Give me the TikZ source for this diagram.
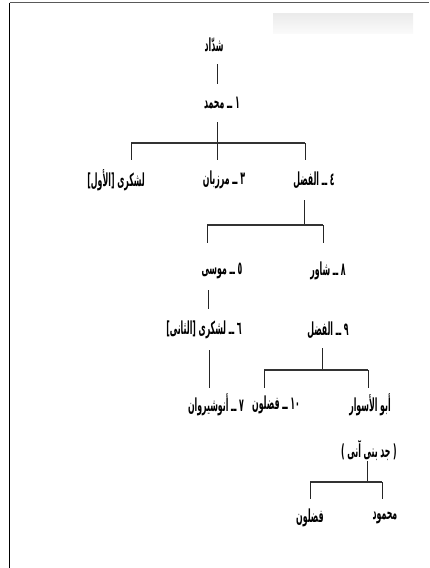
\documentclass[tikz,border=0pt]{standalone}
\usepackage{graphicx}
\usepackage{fontspec}
\newfontfamily\arabicfont[Script=Arabic]{DejaVu Sans}
\TeXXeTstate=1
\newcommand{\artxt}[1]{\scalebox{0.78}[1.8]{\arabicfont\bfseries\beginR #1\endR}}
\newcommand{\arltr}[1]{\scalebox{0.78}[1.8]{\arabicfont\bfseries #1}}
\begin{document}
\begin{tikzpicture}[x=1pt,y=-1pt,
  lbl/.style={font=\fontsize{10}{12}\selectfont, inner sep=0pt, anchor=center},
  conn/.style={line width=0.8pt, black!85},
  bar/.style={line width=1.8pt, black!80},
  frame/.style={line width=1.3pt}]
\useasboundingbox (0,0) rectangle (429,568);
% frame and faint top-right panel
\coordinate (fl) at (9.5,2.5);
\coordinate (fb) at (9.5,568);
\coordinate (fr) at (429,2.5);
\draw[frame, black!65] (fl) -- (fr);
\draw[frame, black] (fl) -- (fb);
\shade[top color=black!8, bottom color=black!2] (273,13) rectangle (413,33);

% nodes
\node[lbl] (shaddad) at (214,45) {\artxt{شدّاد}};
\node[lbl] (m1) at (222,103) {\artxt{١ ــ محمد}};
\node[lbl] (lash1) at (116,180) {\artxt{لشكرى [الأول]}};
\node[lbl] (marz) at (224,180) {\artxt{٣ ــ مرزبان}};
\node[lbl] (fadl4) at (314,180) {\artxt{٤ ــ الفضل}};
\node[lbl] (musa) at (222,271) {\artxt{٥ ــ موسى}};
\node[lbl] (shawar) at (328,271) {\artxt{٨ ــ شاور}};
\node[lbl] (lash2) at (204,330) {\artxt{٦ ــ لشكرى [الثانى]}};
\node[lbl] (fadl9) at (328,330) {\artxt{٩ ــ الفضل}};
\node[lbl] (anush) at (216,405) {\artxt{٧ ــ أنوشيروان}};
\node[lbl] (fadlun10) at (276,405) {\artxt{\beginL ١٠\endL{} ــ فضلون}};
\node[lbl] (aswar) at (370,405) {\artxt{أبو الأسوار}};
\node[lbl] (jadd) at (369,450) {\arltr{) \beginR جد بنى آنى\endR{} (}};
\node[lbl] (mahmud) at (385,518) {\artxt{محمود}};
\node[lbl] (fadlun) at (310,518) {\artxt{فضلون}};

% connector points
\coordinate (a1) at (217,64);  \coordinate (a2) at (217,84);
\coordinate (b0) at (217,122); \coordinate (b1) at (217,143);
\coordinate (bl) at (131,143); \coordinate (br) at (305,143);
\coordinate (bld) at (131,160); \coordinate (bmd) at (217,160); \coordinate (brd) at (305,160);
\coordinate (c0) at (304,200); \coordinate (c1) at (304,225);
\coordinate (cl) at (207,225); \coordinate (cr) at (323,225);
\coordinate (cld) at (207,243); \coordinate (crd) at (323,243);
\coordinate (d0) at (208,290); \coordinate (d1) at (208,309);
\coordinate (e0) at (209,350); \coordinate (e1) at (209,388);
\coordinate (f0) at (322,348); \coordinate (f1) at (322,370);
\coordinate (fl2) at (264,370); \coordinate (fr2) at (368,370);
\coordinate (fld) at (264,388); \coordinate (frd) at (368,388);
\coordinate (g0) at (367,461); \coordinate (g1) at (367,482);
\coordinate (gl) at (310,482); \coordinate (gr) at (382,482);
\coordinate (gld) at (310,499); \coordinate (grd) at (382,499);

% connectors
\draw[conn] (a1) -- (a2);
\draw[conn] (b0) -- (b1);
\draw[bar] (bl) -- (br);
\draw[conn] (bl) -- (bld);
\draw[conn] (b1) -- (bmd);
\draw[conn] (br) -- (brd);
\draw[conn] (c0) -- (c1);
\draw[bar] (cl) -- (cr);
\draw[conn] (cl) -- (cld);
\draw[conn] (cr) -- (crd);
\draw[conn] (d0) -- (d1);
\draw[conn] (e0) -- (e1);
\draw[conn] (f0) -- (f1);
\draw[bar] (fl2) -- (fr2);
\draw[conn] (fl2) -- (fld);
\draw[conn] (fr2) -- (frd);
\draw[conn] (g0) -- (g1);
\draw[bar] (gl) -- (gr);
\draw[conn] (gl) -- (gld);
\draw[conn] (gr) -- (grd);
\end{tikzpicture}
\end{document}
